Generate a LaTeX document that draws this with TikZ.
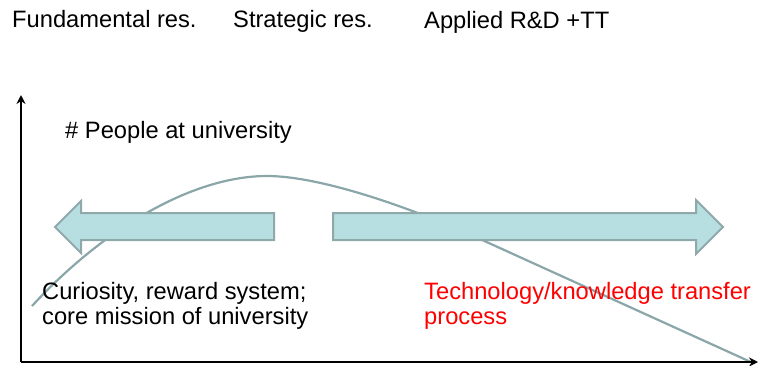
\documentclass[tikz,border=0pt]{standalone}
\usepackage{fontspec}
\setmainfont{Liberation Sans}
\usetikzlibrary{arrows.meta}
\definecolor{arrowfill}{HTML}{B7DEE0}
\definecolor{arrowline}{HTML}{8FA8AA}
\definecolor{curvecol}{HTML}{8AA6A9}
\begin{document}
\begin{tikzpicture}[x=1pt,y=-1pt,
  lbl/.style={anchor=base west,inner sep=0pt,font=\fontsize{23.7}{25}\selectfont},
  lbl2/.style={anchor=base west,inner sep=0pt,font=\fontsize{23.7}{25}\selectfont,align=left},
  axis/.style={line width=2.8pt,-{Stealth[length=9pt,width=9pt]}},
  blockarrow/.style={fill=arrowfill,draw=arrowline,line width=2pt,line join=miter},
  curve/.style={draw=curvecol,line width=2.2pt}]
\useasboundingbox (0,0) rectangle (759,365);
% top labels
\node[lbl] (fund) at (12,27) {Fundamental res.};
\node[lbl] (strat) at (233,27) {Strategic res.};
\node[lbl] (appl) at (424,28) {Applied R\&D +TT};
% curve
\draw[curve] (32,306) .. controls (100,232) and (190,176) .. (267,176)
  .. controls (320,176) and (410,207) .. (480,239) -- (753,363);
% axes
\coordinate (origin) at (21,362);
\coordinate (ytop) at (21,95);
\coordinate (xend) at (758,362);
\draw[axis] (origin) -- (ytop);
\draw[axis] (origin) -- (xend);
% block arrows
\draw[blockarrow] (274,213) -- (81,213) -- (81,201) -- (55,227) -- (81,253) -- (81,240) -- (274,240) -- cycle;
\draw[blockarrow] (333,213) -- (696,213) -- (696,200) -- (723,227) -- (696,254) -- (696,240) -- (333,240) -- cycle;
% labels
\node[lbl] (people) at (65,138) {\# People at university};
\node[lbl2] (curio) at (42,324) {Curiosity, reward system;\\core mission of university};
\node[lbl2,text=red] (tech) at (424,324) {Technology/knowledge transfer\\process};
\end{tikzpicture}
\end{document}
